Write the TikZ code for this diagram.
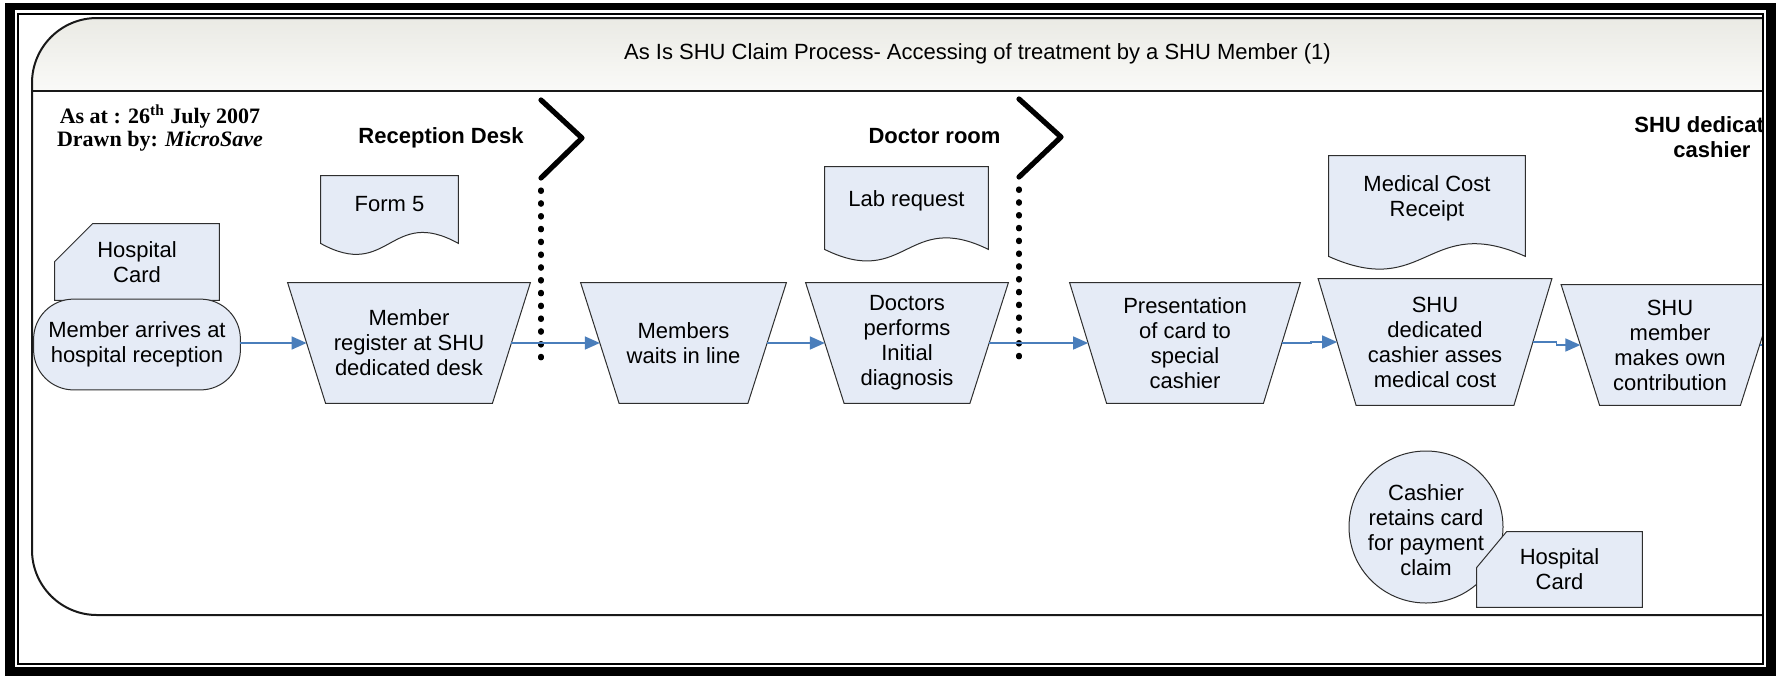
\documentclass[tikz,border=0pt]{standalone}
\usepackage{fontspec}
\setmainfont{Liberation Sans}
\newfontfamily\timesfam{Liberation Serif}
\usetikzlibrary{calc,arrows.meta}
\pgfdeclarelayer{bg}
\pgfsetlayers{bg,main}
\definecolor{shapefill}{HTML}{E5EBF6}
\definecolor{edgegray}{HTML}{2E2E2E}
\definecolor{connblue}{HTML}{4A7EBB}
\definecolor{hdrtop}{HTML}{EAEAE4}
\definecolor{hdrbot}{HTML}{FAFAF8}
\tikzset{
  shp/.style={fill=shapefill, draw=edgegray, line width=0.5pt, line join=miter},
  lbl/.style={inner sep=0pt, align=center, font=\fontsize{11pt}{12.5pt}\selectfont},
  hdr/.style={inner sep=0pt, align=center, font=\fontsize{11pt}{12.5pt}\selectfont\bfseries},
  tbox/.style={lbl, minimum height=60pt},
  conn/.style={draw=connblue, line width=0.75pt, -{Triangle[length=7.5pt,width=6.5pt]}},
  sepline/.style={line width=2.6pt, line cap=round, line join=round},
  sepdots/.style={line width=2.6pt, line cap=round, dash pattern=on 0.7pt off 5.7pt},
  boxline/.style={line width=1pt, draw=black!90},
}
% trapezoid outline from a node: name, half inset
\newcommand\trappath[2]{%
  \path[shp] ($(#1.north west)+(-#2,0)$) -- ($(#1.north east)+(#2,0)$)
    -- ($(#1.south east)+(-#2,0)$) -- ($(#1.south west)+(#2,0)$) -- cycle;}
% document outline: name, drop of edges below node, half width, amplitude
\newcommand\docpath[4]{%
  \path[shp] (#1.north west) -- (#1.north east) -- ($(#1.south east)+(0,#2)$)
    .. controls +(-#3,-#4) and +(#3,#4) .. ($(#1.south west)+(0,#2)$) -- cycle;}
% card outline: name, cut x, cut y
\newcommand\cardpath[3]{%
  \path[shp] ($(#1.north west)+(#2,0)$) -- (#1.north east) -- (#1.south east)
    -- (#1.south west) -- ($(#1.north west)+(0,#3)$) -- cycle;}
\begin{document}
\begin{tikzpicture}[x=0.5pt,y=-0.5pt]
\useasboundingbox (0,0) rectangle (1776,676);
\begin{scope}
\clip (18,13) rectangle (1763,664);
% lane separators
\draw[sepline] (541,100) -- (582,138) -- (541,178);
\draw[sepdots] (541,190) -- (541,365);
\draw[sepline] (1019,99) -- (1061,137) -- (1019,177);
\draw[sepdots] (1019,189) -- (1019,362);
% texts
\node[lbl] (title) at (977.5,54) {As Is SHU Claim Process- Accessing of treatment by a SHU Member (1)};
\node[lbl, font=\timesfam\bfseries\fontsize{11pt}{11.5pt}\selectfont] (asat) at (160,128)
  {As at : 26\textsuperscript{th} July 2007\\Drawn by: \textit{MicroSave}};
\node[hdr] (lane1) at (441,138) {Reception Desk};
\node[hdr] (lane2) at (934.5,136) {Doctor room};
\node[hdr] (lane3) at (1712,137.5) {SHU dedicated\\cashier};
% nodes
\node[lbl, minimum width=82pt, minimum height=38pt] (card1) at (137,262) {Hospital\\Card};
\node[lbl, minimum width=103pt, minimum height=45pt] (oval) at (137,344.5) {Member arrives at\\hospital reception};
\node[lbl, minimum width=68.5pt, minimum height=28pt] (form5) at (389.5,204) {Form 5};
\node[tbox, minimum width=102pt] (T1) at (409,343) {Member\\register at SHU\\dedicated desk};
\node[tbox, minimum width=83.25pt] (T2) at (683.5,343) {Members\\waits in line};
\node[lbl, minimum width=81.5pt, minimum height=34pt] (lab) at (906.5,201) {Lab request};
\node[tbox, minimum width=81.75pt] (T3) at (907,343) {Doctors\\performs\\Initial\\diagnosis};
\node[tbox, minimum width=96.5pt] (T4) at (1185,343) {Presentation\\of card to\\special\\cashier};
\node[lbl, minimum width=98pt, minimum height=42pt] (receipt) at (1427,198) {Medical Cost\\Receipt};
\node[tbox, minimum width=97.5pt, minimum height=63pt] (T5) at (1435,342) {SHU\\dedicated\\cashier asses\\medical cost};
\node[tbox, minimum width=89.25pt] (T6) at (1670,345) {SHU\\member\\makes own\\contribution};
\node[lbl] (cashier) at (1426,530) {Cashier\\retains card\\for payment\\claim};
\node[lbl, minimum width=82.5pt, minimum height=37.5pt] (card2) at (1559.5,569.5) {Hospital\\Card};
% connectors
\coordinate (exitpt) at (1800,345);
\draw[conn] (oval.east |- T1.west) -- (T1.west);
\draw[conn] (T1.east) -- (T2.west);
\draw[conn] (T2.east) -- (T3.west);
\draw[conn] (T3.east) -- (T4.west);
\draw[conn] (T4.east) -| ([xshift=-13pt]T5.west) -- (T5.west);
\draw[conn] (T5.east) -| ([xshift=-12pt]T6.west) -- (T6.west);
\draw[conn] (T6.east) -- (exitpt);
\end{scope}
% shapes behind the texts
\begin{pgfonlayer}{bg}
\fill[white] (0,0) rectangle (1776,676);
\begin{scope}
\clip (18,13) rectangle (1763,664);
\shade[top color=hdrtop, bottom color=hdrbot] (1800,18) -- (97,18)
  .. controls (61.1,18) and (32,47.1) .. (32,83) -- (32,91) -- (1800,91) -- cycle;
\draw[boxline, rounded corners=32.5pt] (1800,18) -- (32,18) -- (32,615) -- (1800,615);
\draw[boxline] (32,91) -- (1800,91);
\cardpath{card1}{38}{38}
\path[shp, rounded corners=20pt] (oval.north west) rectangle (oval.south east);
\docpath{form5}{11}{68.5}{38}
\docpath{lab}{14}{81.5}{40}
\docpath{receipt}{16}{98}{44}
\trappath{T1}{19}
\trappath{T2}{19.25}
\trappath{T3}{19.25}
\trappath{T4}{18.5}
\trappath{T5}{19}
\trappath{T6}{19.25}
\path[shp] (1426,527) ellipse [x radius=38.5pt, y radius=38pt];
\cardpath{card2}{30}{36}
\end{scope}
\end{pgfonlayer}
% outer frame
\fill[black] (5,3) rectangle (1776,10);
\fill[black] (5,3) rectangle (15,676);
\fill[black] (1766,3) rectangle (1776,676);
\fill[black] (5,667) rectangle (1776,676);
\draw[line width=1pt] (18,13.5) rectangle (1763,663.5);
\end{tikzpicture}
\end{document}
